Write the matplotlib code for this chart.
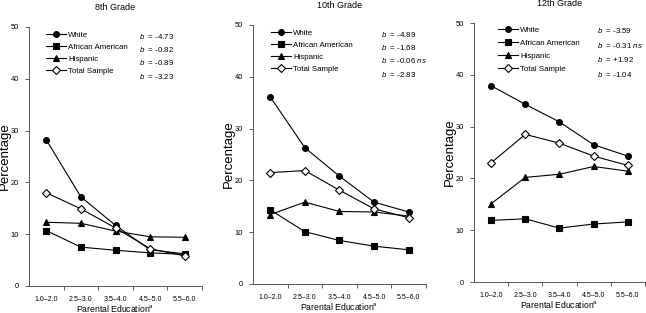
import matplotlib
matplotlib.use("Agg")
import matplotlib.pyplot as plt
from matplotlib.lines import Line2D

plt.rcParams["font.family"] = ["Liberation Sans", "DejaVu Sans"]
plt.rcParams["mathtext.fontset"] = "custom"
plt.rcParams["mathtext.rm"] = "Liberation Sans"
plt.rcParams["mathtext.it"] = "Liberation Sans:italic"

categories = ["1.0\u20132.0", "2.5\u20133.0", "3.5\u20134.0", "4.5\u20135.0", "5.5\u20136.0"]
series_names = ["White", "African American", "Hispanic", "Total Sample"]
grades = ["8th Grade", "10th Grade", "12th Grade"]

# percentages per grade, one list per group
white = [[28.2, 17.2, 11.7, 7.0, 6.2],
         [36.1, 26.3, 20.8, 15.8, 13.9],
         [37.9, 34.3, 30.9, 26.5, 24.3]]
african_american = [[10.7, 7.5, 6.9, 6.4, 6.1],
                    [14.3, 10.1, 8.4, 7.3, 6.6],
                    [11.9, 12.2, 10.4, 11.2, 11.6]]
hispanic = [[12.3, 12.1, 10.6, 9.5, 9.4],
            [13.4, 15.8, 14.0, 13.9, 13.1],
            [15.1, 20.2, 20.8, 22.3, 21.4]]
total = [[18.0, 14.9, 11.2, 7.2, 5.8],
         [21.5, 21.9, 18.1, 14.5, 12.8],
         [23.0, 28.5, 26.8, 24.3, 22.5]]

b_values = [["-4.73", "-0.82", "-0.89", "-3.23"],
            ["-4.89", "-1.68", "-0.06 $ns$", "-2.83"],
            ["-3.59", "-0.31 $ns$", "+1.92", "-1.04"]]

# axes rectangles in figure fractions
positions = [[0.0449, 0.0863, 0.2678, 0.8275],
             [0.3916, 0.0927, 0.2678, 0.8275],
             [0.7337, 0.0990, 0.2647, 0.8275]]
leg_anchor = [(0.098, 0.982), (0.104, 0.982), (0.14, 0.987)]
b_anchor = [0.636, 0.74, 0.719]
row_gap = [0.55, 0.55, 0.68]

styles = [dict(marker="o", markersize=4.2, markerfacecolor="black"),
          dict(marker="s", markersize=4.0, markerfacecolor="black"),
          dict(marker="^", markersize=4.2, markerfacecolor="black"),
          dict(marker="D", markersize=4.2, markerfacecolor="white")]

fig = plt.figure(figsize=(6.46, 3.13), dpi=100)
x = list(range(1, 6))

for g in range(3):
    ax = fig.add_axes(positions[g])
    data = [white[g], african_american[g], hispanic[g], total[g]]
    handles = []
    for vals, st, name in zip(data, styles, series_names):
        h, = ax.plot(x, vals, color="black", lw=0.8, markeredgecolor="black",
                     markeredgewidth=0.8, label=name, **st)
        handles.append(h)

    ax.set_xlim(0.5, 5.5)
    ax.set_ylim(0, 50)
    ax.set_yticks([0, 10, 20, 30, 40, 50])
    ax.set_xticks(x)
    ax.set_xticklabels(categories)
    ax.set_xticks([1.5, 2.5, 3.5, 4.5, 5.5], minor=True)
    ax.tick_params(axis="x", which="major", length=0, labelsize=5.0, pad=7)
    ax.tick_params(axis="x", which="minor", length=3, width=0.6, color="#444444")
    ax.tick_params(axis="y", length=3, width=0.6, color="#444444", labelsize=5.4, pad=4)
    for s in ["top", "right"]:
        ax.spines[s].set_visible(False)
    for s in ["left", "bottom"]:
        ax.spines[s].set_linewidth(0.7)
        ax.spines[s].set_color("#555555")

    ax.set_title(grades[g], fontsize=6.5, pad=12.5)
    ax.set_xlabel("Parental Education$^{\\mathrm{a}}$", fontsize=6.2, labelpad=0.5)
    ax.set_ylabel("Percentage", fontsize=9.5, labelpad=0)

    leg = ax.legend(handles=handles, loc="upper left", bbox_to_anchor=leg_anchor[g],
                    frameon=False, fontsize=5.7, handlelength=2.5, handletextpad=0.3,
                    labelspacing=row_gap[g], borderpad=0, borderaxespad=0)
    ax.add_artist(leg)
    blank = [Line2D([], [], linestyle="none") for _ in range(4)]
    ax.legend(blank, ["$b$  = " + v for v in b_values[g]], loc="upper left",
              bbox_to_anchor=(b_anchor[g], leg_anchor[g][1]), frameon=False,
              fontsize=5.7, handlelength=0, handletextpad=0, labelspacing=row_gap[g],
              borderpad=0, borderaxespad=0)

fig.savefig("out.png", dpi=100)
